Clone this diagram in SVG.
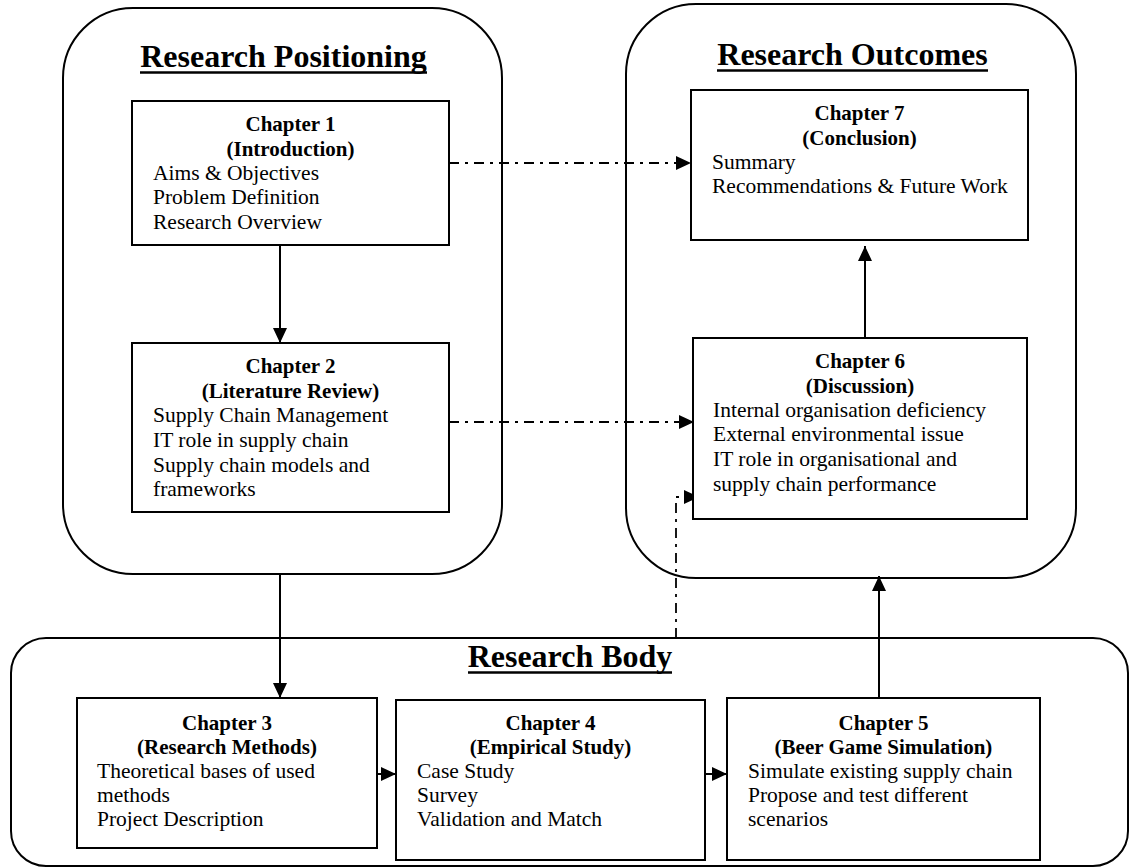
<svg xmlns="http://www.w3.org/2000/svg" width="1130" height="867" viewBox="0 0 1130 867">
  <style>
    .frame { fill: none; stroke: #000; stroke-width: 2; }
    .box { fill: #fff; stroke: #000; stroke-width: 2; }
    .title { font-family: "Liberation Serif", "Times New Roman", serif; font-weight: bold; font-size: 32px; fill: #000; text-anchor: middle; }
    .uline { stroke: #000; stroke-width: 2.6; }
    .head { font-family: "Liberation Serif", "Times New Roman", serif; font-weight: bold; font-size: 21px; fill: #000; text-anchor: middle; }
    .item { font-family: "Liberation Serif", "Times New Roman", serif; font-size: 21.5px; fill: #000; }
    .solid { fill: none; stroke: #000; stroke-width: 2; }
    .dashdot { fill: none; stroke: #000; stroke-width: 1.8; stroke-dasharray: 10 6 3 6; }
  </style>
  <defs>
    <marker id="arrow" markerUnits="userSpaceOnUse" markerWidth="15" markerHeight="14" refX="15" refY="7" orient="auto">
      <path d="M0,0 L15,7 L0,14 Z" fill="#000"/>
    </marker>
  </defs>

  <rect width="1130" height="867" fill="#fff"/>

  <!-- Section frames -->
  <g id="research-positioning">
    <rect class="frame" x="63" y="8" width="439" height="566" rx="70" ry="70"/>
    <text class="title" x="283.5" y="67">Research Positioning</text>
    <line class="uline" x1="140" y1="72.5" x2="427" y2="72.5"/>
  </g>
  <g id="research-outcomes">
    <rect class="frame" x="626" y="4" width="450" height="574" rx="70" ry="70"/>
    <text class="title" x="852.5" y="65">Research Outcomes</text>
    <line class="uline" x1="717" y1="70.5" x2="988" y2="70.5"/>
  </g>
  <g id="research-body">
    <rect class="frame" x="11" y="638" width="1117" height="228" rx="35" ry="35"/>
    <text class="title" x="570" y="667">Research Body</text>
    <line class="uline" x1="468" y1="672.5" x2="672" y2="672.5"/>
  </g>

  <!-- Connectors -->
  <g id="connectors">
    <path class="solid" d="M280,245 V343" marker-end="url(#arrow)"/>
    <path class="dashdot" d="M449,163 H691" marker-end="url(#arrow)"/>
    <path class="dashdot" d="M449,422 H694" marker-end="url(#arrow)"/>
    <path class="solid" d="M280,574 V698" marker-end="url(#arrow)"/>
    <path class="solid" d="M377,774 H396" marker-end="url(#arrow)"/>
    <path class="solid" d="M705,774 H727" marker-end="url(#arrow)"/>
    <path class="solid" d="M879,698 V576" marker-end="url(#arrow)"/>
    <path class="dashdot" d="M676,638 V497 H699" marker-end="url(#arrow)"/>
    <path class="solid" d="M865,338 V246" marker-end="url(#arrow)"/>
  </g>

  <!-- Chapter boxes -->
  <g id="chapter1">
    <rect class="box" x="132" y="101" width="317" height="144"/>
    <text class="head" x="290.5" y="131">Chapter 1</text>
    <text class="head" x="290.5" y="156">(Introduction)</text>
    <text class="item" x="153" y="180">Aims &amp; Objectives</text>
    <text class="item" x="153" y="204">Problem Definition</text>
    <text class="item" x="153" y="229">Research Overview</text>
  </g>
  <g id="chapter2">
    <rect class="box" x="132" y="343" width="317" height="169"/>
    <text class="head" x="290.5" y="373">Chapter 2</text>
    <text class="head" x="290.5" y="398">(Literature Review)</text>
    <text class="item" x="153" y="422">Supply Chain Management</text>
    <text class="item" x="153" y="447">IT role in supply chain</text>
    <text class="item" x="153" y="472">Supply chain models and</text>
    <text class="item" x="153" y="496">frameworks</text>
  </g>
  <g id="chapter7">
    <rect class="box" x="691" y="90" width="337" height="150"/>
    <text class="head" x="859.5" y="120">Chapter 7</text>
    <text class="head" x="859.5" y="145">(Conclusion)</text>
    <text class="item" x="712" y="169">Summary</text>
    <text class="item" x="712" y="193">Recommendations &amp; Future Work</text>
  </g>
  <g id="chapter6">
    <rect class="box" x="693" y="338" width="334" height="181"/>
    <text class="head" x="860" y="368">Chapter 6</text>
    <text class="head" x="860" y="393">(Discussion)</text>
    <text class="item" x="713" y="417">Internal organisation deficiency</text>
    <text class="item" x="713" y="441">External environmental issue</text>
    <text class="item" x="713" y="466">IT role in organisational and</text>
    <text class="item" x="713" y="491">supply chain performance</text>
  </g>
  <g id="chapter3">
    <rect class="box" x="77" y="698" width="300" height="150"/>
    <text class="head" x="227" y="730">Chapter 3</text>
    <text class="head" x="227" y="754">(Research Methods)</text>
    <text class="item" x="97" y="778">Theoretical bases of used</text>
    <text class="item" x="97" y="802">methods</text>
    <text class="item" x="97" y="826">Project Description</text>
  </g>
  <g id="chapter4">
    <rect class="box" x="396" y="700" width="309" height="160"/>
    <text class="head" x="550.5" y="730">Chapter 4</text>
    <text class="head" x="550.5" y="754">(Empirical Study)</text>
    <text class="item" x="417" y="778">Case Study</text>
    <text class="item" x="417" y="802">Survey</text>
    <text class="item" x="417" y="826">Validation and Match</text>
  </g>
  <g id="chapter5">
    <rect class="box" x="727" y="698" width="313" height="162"/>
    <text class="head" x="883.5" y="730">Chapter 5</text>
    <text class="head" x="883.5" y="754">(Beer Game Simulation)</text>
    <text class="item" x="748" y="778">Simulate existing supply chain</text>
    <text class="item" x="748" y="802">Propose and test different</text>
    <text class="item" x="748" y="826">scenarios</text>
  </g>
</svg>
